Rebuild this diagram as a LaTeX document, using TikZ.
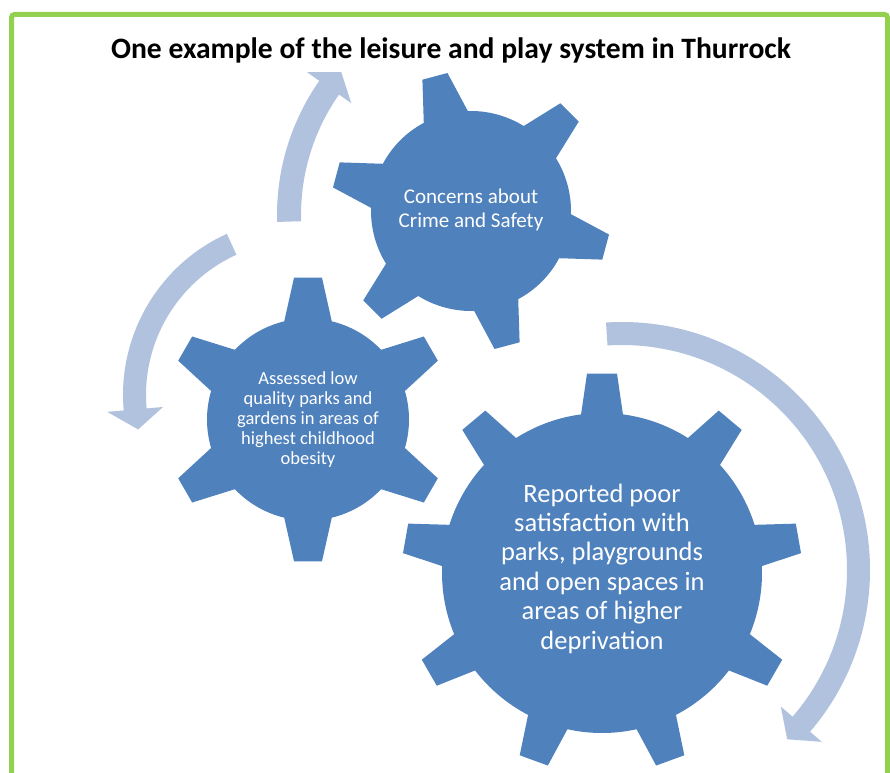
\documentclass[tikz,border=0pt]{standalone}
\usepackage{fontspec}
\setmainfont{Carlito}
\definecolor{gearblue}{HTML}{4F81BD}
\definecolor{arrowblue}{RGB}{177,194,222}
\definecolor{framegreen}{HTML}{92D050}
\tikzset{
  gearstyle/.style={fill=gearblue},
  arrowstyle/.style={fill=arrowblue},
  geartext/.style={text=white, align=center, inner sep=0pt},
}
% name, cx, cy, teeth, offset, r inner, r outer, base half width, tip half width
\newcommand{\gearshape}[9]{%
  \pgfmathsetmacro\gA{360/#4}%
  \pgfmathsetmacro\gB{deg(#8/#6)}%
  \pgfmathsetmacro\gT{deg(#9/#7)}%
  \pgfmathtruncatemacro\gN{#4-1}%
  \fill[gearstyle,shift={(#2,#3)}] ({#5-\gB}:#6pt)
    \foreach \k in {0,...,\gN}{
      -- ({#5+\k*\gA-\gT}:#7pt) -- ({#5+\k*\gA+\gT}:#7pt) -- ({#5+\k*\gA+\gB}:#6pt)
      arc[start angle={#5+\k*\gA+\gB}, end angle={#5+(\k+1)*\gA-\gB}, radius=#6pt]
    } -- cycle;
  \coordinate (#1) at (#2,#3);
}
% name, cx, cy, r inner, r outer, tail angle, head base angle, tip angle, head half width
\newcommand{\circarrow}[9]{%
  \pgfmathsetmacro\arM{(#4+#5)/2}%
  \pgfmathsetmacro\arHo{\arM+#9}%
  \pgfmathsetmacro\arHi{\arM-#9}%
  \fill[arrowstyle,shift={(#2,#3)}] (#6:#5pt) arc[start angle=#6, end angle=#7, radius=#5pt]
    -- (#7:\arHo pt) -- (#8:\arM pt) -- (#7:\arHi pt) -- (#7:#4pt)
    arc[start angle=#7, end angle=#6, radius=#4pt] -- cycle;
  \coordinate (#1) at (#2,#3);
}
\begin{document}
\begin{tikzpicture}[x=1pt,y=1pt]
\useasboundingbox (0,0) rectangle (890,772);
\fill[white] (0,0) rectangle (890,772);
\begin{scope}
\clip (0,0) rectangle (890,772);
\draw[framegreen, line width=5pt, rounded corners=3pt] (11.5,-20) rectangle (887.5,757.5);
\end{scope}

\node[anchor=base, font=\bfseries\fontsize{29.6}{34}\selectfont] (title) at (451,713)
  {One example of the leisure and play system in Thurrock};

% arrows
\circarrow{a1}{511}{557}{210}{234}{181.7}{145}{139.9}{27}
\circarrow{a2}{300}{377}{154}{177}{114.4}{185}{192}{28}
\circarrow{a3}{622}{202}{225}{248}{93.7}{-40.7}{-45.7}{27}

% gears
\gearshape{g1}{471}{561}{6}{105}{100}{140}{23}{13}
\gearshape{g2}{308}{352.5}{6}{90}{101}{142.5}{24}{14}
\gearshape{g3}{602}{199}{9}{90}{160}{200}{21}{15}

\node[geartext, font=\fontsize{21}{24}\selectfont] (t1) at (471,562)
  {Concerns about\\Crime and Safety};
\node[geartext, font=\fontsize{18.5}{20}\selectfont] (t2) at (308,352)
  {Assessed low\\quality parks and\\gardens in areas of\\highest childhood\\obesity};
\node[geartext, font=\fontsize{26.5}{29.4}\selectfont] (t3) at (602,203.5)
  {Reported poor\\satisfaction with\\parks, playgrounds\\and open spaces in\\areas of higher\\deprivation};
\end{tikzpicture}
\end{document}
